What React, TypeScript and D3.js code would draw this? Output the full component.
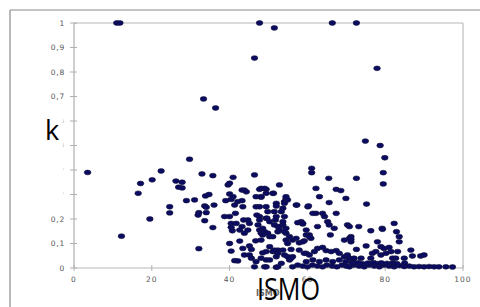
import React from 'react';
import * as d3 from 'd3';

// [ISMO, k], grouped by region
const topPoints: [number, number][] = [
  [11, 1], [11.8, 1], [47.7, 1], [51.5, 0.98], [66.4, 1], [72.6, 1],
  [46.4, 0.857], [77.9, 0.815], [33.3, 0.69], [36.4, 0.653],
  [74.9, 0.518], [78.7, 0.5], [79.9, 0.45], [29.7, 0.444]
];

const leftPoints: [number, number][] = [
  [3.5, 0.39], [12.2, 0.13], [16.5, 0.305], [17.1, 0.345], [20.1, 0.36], [19.5, 0.2],
  [22.4, 0.396], [24.6, 0.25], [24.6, 0.225], [26.2, 0.355], [26.9, 0.33], [27.8, 0.35],
  [27.8, 0.327], [28.9, 0.275]
];

const midPoints: [number, number][] = [
  [32.9, 0.384], [35.7, 0.377], [40.9, 0.37], [31, 0.278], [33.6, 0.253], [34, 0.248],
  [36, 0.257], [33.8, 0.294], [34.7, 0.3], [32.1, 0.226], [31.9, 0.216], [34, 0.226],
  [33.6, 0.193], [35.7, 0.165], [32.1, 0.079], [39, 0.275], [40.4, 0.28], [39.6, 0.339],
  [40, 0.346], [40, 0.302], [40.9, 0.291], [42.1, 0.271], [41.3, 0.257], [38.7, 0.21],
  [40, 0.21], [41.5, 0.223], [40.4, 0.182], [40.4, 0.166], [40.7, 0.152], [41.7, 0.182],
  [42.6, 0.155], [40, 0.1], [40.4, 0.069], [42.6, 0.11], [41.3, 0.03], [42.1, 0.029],
  [43.2, 0.318], [43.8, 0.318], [44.3, 0.311], [43.2, 0.275], [43.4, 0.25], [43.6, 0.196],
  [44.7, 0.196], [45.1, 0.182], [43.2, 0.169], [43.8, 0.142], [44.7, 0.155], [43.4, 0.08],
  [45.1, 0.09], [45.6, 0.076], [43.8, 0.053], [45.1, 0.053], [46.4, 0.38], [48.1, 0.325],
  [46.8, 0.291], [48.1, 0.289], [46.8, 0.25], [47.7, 0.25], [47, 0.216], [47.7, 0.21],
  [47.3, 0.176], [47.7, 0.155], [48.1, 0.142], [45.6, 0.04], [46.8, 0.026], [46.7, 0.111],
  [48.1, 0.114], [48.5, 0.062], [46.4, 0.005]
];

const centerPoints: [number, number][] = [
  [49, 0.005], [47.7, 0.321], [49.4, 0.321], [51.3, 0.305], [52.8, 0.339], [61.1, 0.407],
  [61.1, 0.389], [62.2, 0.325], [54.5, 0.284], [54.1, 0.271], [52, 0.264], [52, 0.253],
  [57.1, 0.257], [60.1, 0.25], [62.2, 0.223], [47.7, 0.196], [49.4, 0.203], [50.3, 0.189],
  [51.5, 0.176], [52.8, 0.169], [53.7, 0.176], [54.5, 0.162], [52.4, 0.148], [54.5, 0.142],
  [57.5, 0.185], [58.8, 0.18], [59.7, 0.155], [60.5, 0.135], [60.9, 0.121], [48.5, 0.135],
  [50.3, 0.128], [50.3, 0.087], [49.4, 0.067], [51.1, 0.067], [52.4, 0.073], [54.5, 0.114],
  [54.9, 0.1], [53.7, 0.073], [55.8, 0.076], [56.2, 0.046], [55.4, 0.033], [52, 0.046],
  [49.4, 0.033], [49.4, 0.005], [52, 0.003], [59.7, 0.06], [57.9, 0.103], [59.2, 0.111],
  [49, 0.325], [51.1, 0.305], [49.4, 0.305], [48.1, 0.291], [54.5, 0.291], [54.9, 0.278],
  [54.1, 0.264], [53.7, 0.244], [51.5, 0.23], [52, 0.21], [51.8, 0.196], [49.4, 0.25],
  [49.8, 0.23], [49.6, 0.203], [53.3, 0.23], [54.1, 0.21], [53.7, 0.189], [61.4, 0.223],
  [58.4, 0.189], [58.8, 0.182], [62.6, 0.169], [48.5, 0.162], [49, 0.148], [49.8, 0.142],
  [51.1, 0.128], [52.4, 0.169], [52.8, 0.155], [54.1, 0.148], [55.4, 0.128], [56.2, 0.114],
  [57.1, 0.121], [59.7, 0.135], [60.5, 0.128], [58.8, 0.107], [51.5, 0.073], [52.4, 0.06],
  [54.1, 0.053], [54.9, 0.046], [55.8, 0.04], [48.1, 0.04], [50.3, 0.033], [53.3, 0.019],
  [52.4, 0.005], [57.3, 0.257], [60.3, 0.253], [63.1, 0.291]
];

const rightPoints: [number, number][] = [
  [65.5, 0.366], [67.4, 0.321], [68.6, 0.316], [69.9, 0.284], [65.6, 0.267], [63.9, 0.223],
  [64.4, 0.21], [65.2, 0.189], [65.6, 0.176], [67.4, 0.223], [66.9, 0.162], [70.3, 0.176],
  [65.9, 0.135], [69.5, 0.114], [70.8, 0.121], [71.2, 0.107], [57.9, 0.073], [59.2, 0.06],
  [60.5, 0.053], [61.8, 0.067], [62.6, 0.08], [63.9, 0.084], [64.8, 0.071], [66.1, 0.067],
  [67.4, 0.071], [68.2, 0.06], [69.5, 0.046], [70.3, 0.053], [59.7, 0.026], [61.4, 0.033],
  [63.1, 0.026], [64.8, 0.033], [66.5, 0.026], [68.2, 0.033], [69.9, 0.026], [71.6, 0.033],
  [79.5, 0.389], [79.5, 0.343], [72.6, 0.366], [75.2, 0.261], [70.8, 0.169], [73.2, 0.169],
  [76.3, 0.152], [79.2, 0.162], [79.3, 0.158], [82.3, 0.182], [82.9, 0.148], [83.6, 0.128],
  [83.6, 0.107], [71.2, 0.128], [71.2, 0.117], [72.6, 0.076], [75.1, 0.09], [78, 0.107],
  [78.9, 0.087], [79.7, 0.08], [81, 0.084], [81.5, 0.067], [83.2, 0.067], [76.7, 0.06],
  [77.6, 0.067], [78.9, 0.053], [80.2, 0.06], [86.6, 0.073], [87, 0.049], [89.1, 0.049],
  [90, 0.053], [70.8, 0.04], [72, 0.04], [73.8, 0.04], [76.3, 0.04], [81.9, 0.04],
  [82.7, 0.04], [84.9, 0.04]
];

const bottomPoints: [number, number][] = [
  [56.2, 0.005], [57.5, 0.012], [58.8, 0.008], [60, 0.005], [61.3, 0.012], [62.6, 0.008],
  [63.9, 0.005], [65, 0.012], [66.4, 0.008], [67.6, 0.005], [68.9, 0.012], [70, 0.008],
  [70.8, 0.005], [72, 0.012], [73.3, 0.008], [74.6, 0.005], [75.9, 0.012], [77.2, 0.008],
  [78.5, 0.005], [79.7, 0.012], [81, 0.008], [82.3, 0.005], [83.6, 0.01], [84.9, 0.006],
  [86.2, 0.008], [87.4, 0.005], [88.7, 0.006], [90, 0.005], [91.3, 0.006], [92.6, 0.005],
  [93.8, 0.005], [95.6, 0.005], [97.3, 0.004], [71.5, 0.02], [73, 0.022], [74, 0.018],
  [75.5, 0.02], [77, 0.022], [78, 0.018], [79, 0.021], [80.5, 0.019], [82, 0.021],
  [83, 0.018], [85, 0.02]
];

const xTicks = [0, 20, 40, 60, 80, 100];
const yTicks = [0, 0.1, 0.2, 0.3, 0.4, 0.5, 0.6, 0.7, 0.8, 0.9, 1];
// labels as they appear; the middle ones are clipped to stray marks
const yTickLabels = ['0', '0,1', '0,2', "'", "'", 'i', 'i', '0,7', '0,8', '0,9', '1'];

export default function App() {
  const width = 480, height = 307;
  const x = d3.scaleLinear().domain([0, 100]).range([74, 463]);
  const y = d3.scaleLinear().domain([0, 1]).range([268, 23]);
  const all = [...topPoints, ...leftPoints, ...midPoints, ...centerPoints, ...rightPoints, ...bottomPoints];
  const font = 'DejaVu Sans, sans-serif';

  return (
    <svg width={width} height={height} style={{position: 'fixed', left: 0, top: 0, background: '#fff'}}>
      {/* outer frame */}
      <line x1={10} y1={10} x2={width} y2={10} stroke="#8a8a8a" strokeWidth={1.2} />
      <line x1={10} y1={10} x2={10} y2={height} stroke="#8a8a8a" strokeWidth={1.2} />

      {/* plot frame */}
      <line x1={x(0)} x2={x(100)} y1={y(1)} y2={y(1)} stroke="#cfcfcf" strokeWidth={1.5} />
      <line x1={x(100)} x2={x(100)} y1={y(1)} y2={y(0)} stroke="#b0b0b0" strokeWidth={1} />
      <line x1={x(0)} x2={x(0)} y1={y(1)} y2={y(0)} stroke="#a0a0a0" strokeWidth={1} />
      <line x1={x(0)} x2={x(100)} y1={y(0)} y2={y(0)} stroke="#b8b8b8" strokeWidth={1} />

      {yTicks.map((t, i) => (
        <g key={'y' + i}>
          <line x1={x(0) - 4} x2={x(0) + 3} y1={y(t)} y2={y(t)} stroke="#b0b0b0" />
          <text x={65} y={y(t)} dy="0.35em" textAnchor="end" fontFamily={font}
            fontSize={yTickLabels[i].length > 1 || yTickLabels[i] === '0' || yTickLabels[i] === '1' ? 7.5 : 5}
            letterSpacing={0.8} fill={yTickLabels[i].length > 1 || /\d/.test(yTickLabels[i]) ? '#555' : '#999'}>
            {yTickLabels[i]}
          </text>
        </g>
      ))}

      {xTicks.map((t) => (
        <g key={'x' + t}>
          <line x1={x(t)} x2={x(t)} y1={y(0) - 3} y2={y(0) + 3} stroke="#b0b0b0" />
          <text x={x(t)} y={282} textAnchor="middle" fontFamily={font} fontSize={7.5}
            letterSpacing={1} fill="#555">{t}</text>
        </g>
      ))}

      {all.map((d, i) => (
        <ellipse key={i} cx={x(d[0])} cy={y(d[1])} rx={3.3} ry={2.4}
          fill="#0b0b62" stroke="#14143c" strokeWidth={0.6} />
      ))}

      {/* small original axis title, mostly covered */}
      <text x={256} y={296} fontFamily={font} fontSize={8} fontWeight="bold" fill="#666">ISMO</text>
      {/* large axis labels */}
      <text x={45} y={140} fontFamily="Open Sans, sans-serif" fontSize={27} fill="#000">k</text>
      <text x={257} y={300} fontFamily="Open Sans, sans-serif" fontSize={31} fill="#000"
        textLength={63} lengthAdjust="spacingAndGlyphs">ISMO</text>
    </svg>
  );
}
